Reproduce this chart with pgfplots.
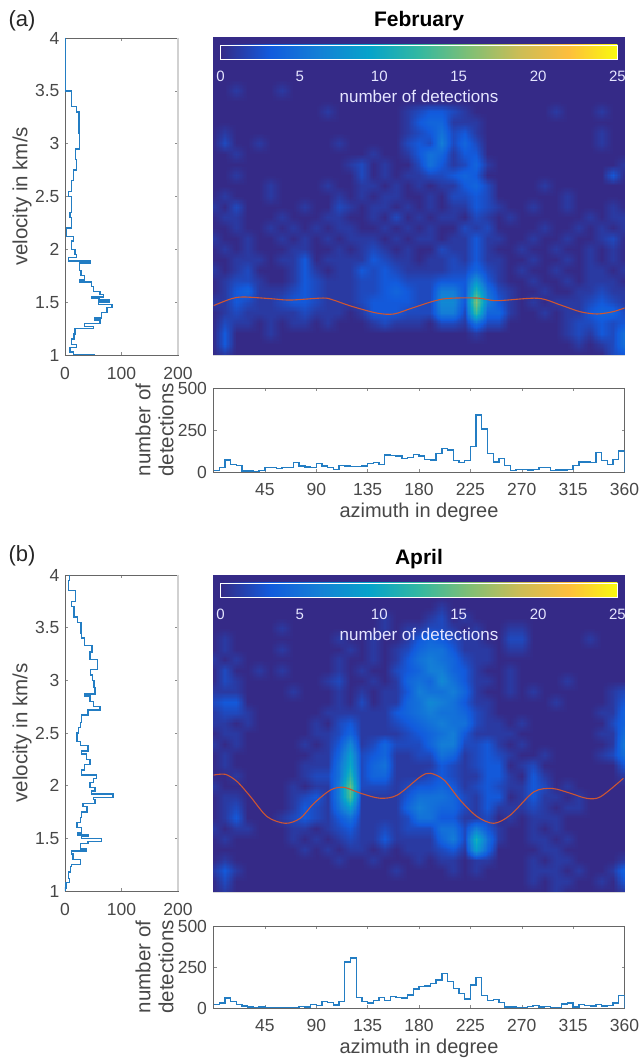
\documentclass[border=0pt]{standalone}
\usepackage{fontspec}
\setmainfont{Liberation Sans}
\usepackage{pgfplots}
\usepgfplotslibrary{patchplots}
\pgfplotsset{compat=1.18}
\definecolor{hblue}{RGB}{35,125,195}
\definecolor{cred}{RGB}{205,85,50}
\pgfplotsset{
 colormap={parula}{rgb=(0.2081,0.1663,0.5292) rgb=(0.0704,0.3562,0.8669) rgb=(0.0780,0.5040,0.8384) rgb=(0.0232,0.6407,0.7925) rgb=(0.1986,0.7214,0.6310) rgb=(0.4963,0.7486,0.4586) rgb=(0.7923,0.7406,0.3396) rgb=(0.9932,0.7439,0.2387) rgb=(0.9763,0.9831,0.0538)},
 every axis/.append style={
  scale only axis, enlargelimits=false, axis line style={black!60,line width=0.7pt},
  tick align=inside, major tick length=3pt, tick style={black!45,line width=0.5pt},
  tick label style={font=\fontsize{17.5}{20}\selectfont,text=black!72,/pgf/number format/assume math mode=true},
  label style={font=\fontsize{20.5}{23}\selectfont,text=black!72},
 },
 heat/.style={width=411pt,height=#1,xmin=0,xmax=360,ymin=1,ymax=4,xtick=\empty,ytick=\empty,
  axis line style={black!15,line width=0.5pt},
  colormap name=parula,point meta min=0,point meta max=25,
  title style={at={(axis description cs:0.5,1)},yshift=10.5pt,anchor=center,font=\fontsize{21}{24}\selectfont\bfseries,text=black},
  colorbar horizontal,
  colorbar style={at={(0.017,0.978)},anchor=north west,width=397pt,height=14pt,scale only axis,
   xtick={0,5,10,15,20,25},major tick length=0pt,
   axis line style={white,line width=0.7pt},
   xticklabel style={font=\fontsize{15}{18}\selectfont,text=white!90!blue,yshift=-9pt},
   xlabel={number of detections},
   xlabel style={font=\fontsize{17}{20}\selectfont,text=white!90!blue,at={(axis description cs:0.5,0)},yshift=-37pt,anchor=center},
   ytick=\empty},
 },
 vhist/.style={width=113pt,height=#1,xmin=0,xmax=200,ymin=1,ymax=4,xtick={0,100,200},
  ytick={1,1.5,2,2.5,3,3.5,4},
  xticklabel style={yshift=-9pt},
  yticklabel style={xshift=-2pt},
  ylabel={velocity in km/s},
  ylabel style={at={(axis description cs:0,0.5)},yshift=43pt,anchor=center},
  extra description/.code={\draw[black!18,line width=1.2pt] (1,0)--(1,1);},
 },
 ahist/.style={width=411pt,height=#1,xmin=0,xmax=360,ymin=0,ymax=500,
  xtick={45,90,135,180,225,270,315,360},ytick={0,250,500},
  xticklabel style={yshift=-8pt},
  yticklabel style={xshift=-3pt},
  xlabel={azimuth in degree},
  xlabel style={font=\fontsize{20}{23}\selectfont,at={(axis description cs:0.5,0)},yshift=-40pt,anchor=center},
  ylabel={number of\\detections},
  ylabel style={at={(axis description cs:0,0.5)},yshift=59pt,anchor=center,align=center},
 },
}
\newcount\hc \newcount\hr
\newcommand\hmstart{\gdef\hmdata{}\global\hr=40 }
\def\hmpad{\xdef\hmdata{\hmdata (\the\numexpr\hc*10\relax,\the\hr e-1) [0]}\global\advance\hc by 1 \ifnum\hc<37 \expandafter\hmpad\fi}
\newcommand\hmrow[1]{\global\hc=0 \foreach \v in {#1}{\ifnum\hc<37 \xdef\hmdata{\hmdata (\the\numexpr\hc*10\relax,\the\hr e-1) [\v]}\global\advance\hc by 1 \fi}\ifnum\hc<37 \hmpad\fi\global\advance\hr by -1 }
% February: number of detections, azimuth 0,10,...,360 along each row, velocity 4.0 down to 1.0
\hmstart
\hmrow{0}\hmrow{0}\hmrow{0}\hmrow{0}\hmrow{0}
\hmrow{0,0,1,0,0,0,1,0,0,0}
\hmrow{0}
\hmrow{0,0,0,0,0,0,0,0,0,0, 1,0,0,0,0,0,0,1,2,3, 3,2,1,0,0,0,0,0,0,0, 1,0,0,0,1}
\hmrow{0,0,0,0,0,0,0,0,0,0, 0,0,0,0,0,0,0,1,3,4, 4,1,1,1}
\hmrow{0,1,0,0,0,0,0,0,0,0, 0,0,0,0,0,0,0,1,2,3, 5,2,3,1,0,0,0,0,0,0, 0,0,0,0,1}
\hmrow{0,2,0,0,1,0,0,0,0,0, 0,1,0,0,0,0,0,2,3,2, 6,2,4,2,0,0,0,0,0,0, 0,0,0,0,1}
\hmrow{0,0,1,0,0,0,0,0,0,0, 0,0,0,0,1,0,0,1,3,5, 4,1,3,3}
\hmrow{0,0,0,0,0,0,0,0,0,0, 0,0,1,2,0,1,0,0,2,5, 3,1,2,4,1,0,0,0,0,0, 0,0,0,0,0,0,1}
\hmrow{0,0,1,0,0,0,0,0,0,0, 0,0,0,2,0,1,0,1,1,2, 2,3,4,3,0,0,0,0,0,0, 0,0,0,0,0,3,0}
\hmrow{0,0,0,0,0,1,0,0,0,0, 1,0,0,1,1,0,1,0,1,0, 1,1,3,4,2,0,0,0,0,1}
\hmrow{0,1,0,0,0,1,0,0,0,0, 0,1,0,1,0,1,1,0,0,1, 0,2,2,3,2,0,0,0,0,0, 0,1}
\hmrow{1,0,2,0,0,0,0,0,1,0, 0,2,1,0,1,1,0,1,0,1, 0,1,1,3,2,1,0,0,1,0, 0,1,0,0,0,1,0}
\hmrow{0,1,1,0,0,0,1,0,0,0, 1,1,0,0,1,0,2,0,1,0, 1,1,0,2,1,0,1,0,0,0, 0,0,0,1,0,1,1}
\hmrow{0,0,1,0,0,1,0,1,0,1, 0,1,1,0,0,1,0,1,0,1, 0,0,2,1,2,0,0,0,0,1, 0,0,1,0,1,0,1}
\hmrow{1,0,0,1,0,0,1,0,1,0, 1,0,1,1,1,0,1,0,1,1, 0,1,1,3,1,1,0,0,1,0, 0,1,0,0,1,2,0}
\hmrow{0,1,0,1,0,0,0,1,1,0, 0,1,0,1,2,1,0,1,0,0, 2,1,1,3,1,0,0,1,0,0, 1,0,0,1,0,1,0}
\hmrow{0,0,1,1,1,0,1,1,3,0, 1,1,1,1,3,2,1,1,0,1, 1,2,1,3,1,1,0,0,1,0, 0,1,0,1,0,1,0}
\hmrow{1,0,1,2,0,0,0,1,3,1, 0,1,1,3,2,3,2,1,1,1, 1,2,2,4,2,1,0,1,0,0, 1,0,0,1,1,0,1}
\hmrow{0,1,2,2,1,0,0,1,3,2, 1,1,1,2,2,3,3,2,2,2, 3,3,3,8,3,1,0,0,1,0, 0,1,0,1,1,1,0}
\hmrow{0,1,3,4,1,1,1,2,3,2, 1,1,1,2,2,3,4,3,2,2, 6,6,3,12,5,2,1,0,0,1, 0,0,1,1,2,1,1}
\hmrow{1,1,3,2,1,1,2,3,3,2, 1,1,1,2,3,3,3,3,2,2, 7,7,3,16,6,3,1,0,1,0, 1,1,1,2,3,2,1}
\hmrow{0,1,2,1,1,1,1,1,2,1, 1,1,0,1,3,3,3,2,2,2, 6,6,2,13,4,4,1,0,0,1, 0,1,1,3,4,4,2}
\hmrow{0,2,1,1,0,1,0,1,1,0, 1,0,0,0,1,2,1,1,1,0, 2,2,1,5,2,2,0,0,0,0, 0,1,2,2,3,2,3}
\hmrow{0,3,0,0,0,1,0,0,0,0, 0,0,0,0,0,0,0,0,0,0, 0,0,0,1,0,0,0,0,0,0, 0,1,2,1,3,2,5}
\hmrow{0,3,0,0,0,0,0,0,0,0, 0,0,0,0,0,0,0,0,0,0, 0,0,0,0,0,0,0,0,0,0, 0,0,1,0,1,2,5}
\hmrow{0,1,0,0,0,0,0,0,0,0, 0,0,0,0,0,0,0,0,0,0, 0,0,0,0,0,0,0,0,0,0, 0,0,0,0,0,2,3}
\global\let\hmA\hmdata
% April
\hmstart
\hmrow{0}\hmrow{0}\hmrow{0}
\hmrow{0,0,0,0,0,0,0,0,0,0, 0,0,0,0,0,0,0,0,0,0, 1}
\hmrow{0,0,0,0,0,0,0,0,0,0, 0,0,0,0,0,1,0,0,0,1, 2,0,1}
\hmrow{0,0,0,0,0,0,1,0,0,0, 0,0,0,0,0,1,0,1,1,2, 2,1,0,1,0,0,1,1}
\hmrow{0,1,0,0,0,0,0,0,0,0, 0,1,0,0,1,0,0,1,3,4, 3,2,1,1,0,0,2,2,0,0, 0,0,0,1}
\hmrow{0,1,0,0,0,0,1,0,0,0, 0,0,1,0,1,0,1,2,4,5, 5,3,1,1,1,0,1,1}
\hmrow{1,0,1,0,0,0,0,0,0,0, 0,1,0,0,1,0,1,3,5,6, 5,4,2,1,1}
\hmrow{0,2,0,0,1,0,1,0,0,0, 0,1,0,1,0,0,2,3,4,6, 6,4,3,1,0,0,1}
\hmrow{0,2,1,0,0,0,0,0,0,0, 1,2,0,0,1,0,1,4,5,4, 7,5,3,1,1,0,1,0,0,0, 0,1}
\hmrow{1,1,1,0,0,0,0,1,0,0, 0,1,0,1,0,1,1,3,6,5, 5,6,4,1,0,0,1,0,1,0, 0,0,0,0,0,1,2}
\hmrow{2,3,3,0,0,0,0,0,0,0, 0,1,0,2,0,1,1,4,5,7, 6,5,3,1,1,0,0,0,0,0, 1,0,0,0,0,1,3}
\hmrow{1,2,2,1,0,0,0,0,0,0, 1,1,1,1,1,1,3,4,5,6, 5,5,4,2,1,0,0,0,0,0, 0,0,0,0,1,1,4}
\hmrow{1,1,0,1,0,0,0,0,0,1, 0,2,3,1,1,1,2,3,4,5, 6,5,5,2,1,1,0,1,0,0, 0,0,0,0,0,2,4}
\hmrow{0,1,1,0,0,0,0,0,0,1, 1,2,4,1,1,1,1,2,3,4, 5,6,3,1,1,1,1,0,0,0, 0,0,0,0,1,1,5}
\hmrow{1,0,1,0,0,0,0,0,1,0, 1,3,7,1,2,4,2,2,2,4, 6,6,2,2,3,1,0,1,0,0, 0,0,0,0,0,1,6}
\hmrow{0,1,0,0,0,0,0,0,0,1, 1,4,9,2,3,4,1,1,2,2, 5,4,1,2,3,2,1,0,0,1, 0,0,0,0,1,2,5}
\hmrow{0,1,0,0,0,0,0,0,1,1, 1,5,10,2,4,5,1,1,1,1, 3,2,1,2,3,3,0,1,2,0, 0,0,0,0,0,0,3}
\hmrow{0,0,1,0,0,0,0,0,1,2, 2,5,12,2,4,4,1,1,1,2, 3,2,1,1,3,3,1,0,3,1, 0,0,0,0,0,0,1}
\hmrow{1,0,0,0,0,0,0,1,0,1, 1,6,15,2,2,2,1,2,3,3, 4,3,1,2,3,2,1,1,3,2, 0,1}
\hmrow{0,1,1,0,0,0,0,1,2,3, 1,6,14,1,1,1,1,3,5,5, 5,4,2,1,3,3,0,1,3,1, 1,0,1}
\hmrow{0,1,2,0,0,0,0,1,3,2, 1,5,9,1,1,1,1,4,6,5, 4,4,2,1,3,1,1,1,2,1, 0,1,1}
\hmrow{0,1,3,0,0,0,1,2,3,2, 1,3,5,1,1,1,1,2,5,5, 3,3,1,1,2,0,1,0,1,1, 1}
\hmrow{1,0,1,1,0,0,0,1,1,0, 1,2,3,1,1,2,1,2,2,2, 5,5,2,6,3,1,0,0,1,0, 1}
\hmrow{0,1,0,0,0,0,0,1,0,1, 0,1,2,1,1,3,1,1,1,1, 4,6,2,11,5,1,0,0,1,1, 0,1}
\hmrow{0,0,0,0,0,0,0,0,1,0, 1,0,1,1,0,1,0,1,1,1, 2,3,1,9,4,0,0,0,0,1, 1}
\hmrow{0,1,0,0,0,0,0,0,0,0, 0,1,0,0,1,0,0,0,1,0, 1,1,0,1,1,0,0,0,1,0, 1,1,0,0,0,0,1}
\hmrow{1,3,1,0,0,0,0,0,0,0, 0,0,0,0,0,0,1,0,0,0, 0,1,0,1,0,0,0,0,1,1, 1,0,1,0,0,1,4}
\hmrow{0,2,0,0,0,0,0,0,0,0, 0,0,0,0,0,0,0,0,0,0, 0,0,0,0,0,0,0,0,1,0, 1,1,0,0,1,0,3}
\hmrow{0,1,0,0,0,0,0,0,0,0, 0,0,0,0,0,0,0,0,0,0, 0,0,0,0,0,0,0,0,0,0, 1,0,0,0,0,0,1}
\global\let\hmB\hmdata
\begin{document}
\begin{tikzpicture}
\node[anchor=center,font=\fontsize{22}{24}\selectfont,text=black!85] at (22pt,1039pt) {(a)};
\node[anchor=center,font=\fontsize{22}{24}\selectfont,text=black!85] at (22pt,504pt) {(b)};
% ---- February ----
\begin{axis}[at={(65pt,705pt)},anchor=south west,vhist=317pt]
\addplot[hblue,line width=1.4pt,const plot mark right] coordinates {
(1,4)(1,3.5)(12,3.5)(12,3.35)(20,3.35)(25,3.3)(26,3.1)(26,3)(19,2.95)(20,2.85)(15,2.75)(12,2.65)(6,2.55)(12,2.5)(9,2.35)(12,2.3)(3,2.2)(15,2.12)(12,2.08)(18,2)(20,1.95)(6,1.92)(44,1.89)(26,1.87)(28,1.8)(35,1.75)(26,1.71)(47,1.69)(50,1.65)(62,1.6)(68,1.57)(47,1.55)(60,1.54)(78,1.52)(59,1.5)(83,1.48)(74,1.45)(65,1.4)(53,1.35)(62,1.33)(35,1.3)(50,1.27)(18,1.25)(16,1.2)(12,1.15)(20,1.1)(9,1.07)(15,1.03)(53,1)};
\end{axis}
\begin{axis}[at={(213.5pt,705pt)},anchor=south west,heat=317pt,title={February}]
\edef\tmp{\noexpand\addplot[surf,shader=interp,patch type=bilinear,mesh/cols=37,mesh/ordering=x varies,point meta=explicit] coordinates {\hmA};}\tmp
\addplot[cred,line width=1.1pt,smooth] coordinates {(0,1.467)(15,1.53)(26,1.549)(50,1.533)(67,1.52)(96,1.539)(105,1.52)(120,1.464)(143,1.397)(158,1.388)(175,1.448)(201,1.53)(231,1.539)(248,1.514)(284,1.537)(304,1.473)(321,1.41)(336,1.388)(350,1.41)(360,1.445)};
\end{axis}
\begin{axis}[at={(213.5pt,588pt)},anchor=south west,ahist=84pt]
\addplot[hblue,line width=1.4pt,const plot] coordinates {
(0,10)(5,25)(10,72)(15,45)(20,38)(25,5)(30,5)(35,3)(40,8)(45,25)(50,28)(55,20)(60,25)(65,25)(70,55)(75,35)(80,30)(85,28)(90,50)(95,35)(100,25)(105,15)(110,40)(115,35)(120,33)(125,33)(130,35)(135,50)(140,55)(145,45)(150,100)(155,98)(160,95)(165,80)(170,85)(175,105)(180,95)(185,75)(190,72)(195,110)(200,140)(205,130)(210,70)(215,55)(220,70)(225,150)(230,340)(235,255)(240,110)(245,60)(250,80)(255,40)(260,8)(265,15)(270,15)(275,12)(280,15)(285,25)(290,25)(295,10)(300,12)(305,12)(310,15)(315,40)(320,60)(325,60)(330,55)(335,115)(340,70)(345,45)(350,75)(355,125)(360,125)(360,0)};
\end{axis}
% ---- April ----
\begin{axis}[at={(65pt,169pt)},anchor=south west,vhist=316pt]
\addplot[hblue,line width=1.4pt,const plot mark right] coordinates {
(8,4)(6,3.95)(19,3.85)(12,3.75)(16,3.7)(22,3.6)(28,3.55)(29,3.45)(35,3.4)(48,3.33)(44,3.27)(58,3.2)(45,3.1)(49,3.05)(51,3)(53,2.93)(35,2.87)(44,2.85)(50,2.8)(62,2.75)(41,2.72)(29,2.67)(27,2.6)(24,2.55)(21,2.5)(27,2.42)(41,2.38)(29,2.33)(38,2.3)(44,2.25)(35,2.2)(29,2.15)(56,2.1)(50,2.07)(44,2.03)(53,1.98)(47,1.95)(85,1.92)(50,1.89)(53,1.87)(32,1.83)(39,1.8)(29,1.75)(27,1.7)(21,1.65)(29,1.6)(22,1.55)(41,1.53)(29,1.52)(65,1.5)(41,1.47)(27,1.45)(38,1.4)(12,1.38)(14,1.35)(27,1.3)(12,1.25)(10,1.23)(6,1.18)(8,1.12)(2,1.08)(0,1.03)(0,1)};
\end{axis}
\begin{axis}[at={(213.5pt,168pt)},anchor=south west,heat=316pt,title={April}]
\edef\tmp{\noexpand\addplot[surf,shader=interp,patch type=bilinear,mesh/cols=37,mesh/ordering=x varies,point meta=explicit] coordinates {\hmB};}\tmp
\addplot[cred,line width=1.1pt,smooth] coordinates {(0,2.11)(10.5,2.117)(20.8,2.047)(32.4,1.905)(47,1.715)(63,1.652)(76,1.7)(88,1.842)(102.5,1.968)(114,1.994)(129,1.937)(146,1.89)(161,1.92)(181.3,2.095)(190,2.127)(202,2.063)(216,1.873)(231,1.715)(245.5,1.652)(260,1.73)(280.5,1.95)(296.6,1.983)(312.7,1.937)(327,1.889)(339,1.904)(359,2.079)};
\end{axis}
\begin{axis}[at={(213.5pt,52pt)},anchor=south west,ahist=82pt]
\addplot[hblue,line width=1.4pt,const plot] coordinates {
(0,20)(5,30)(10,60)(15,40)(20,20)(25,12)(30,5)(35,2)(40,5)(45,2)(50,2)(55,2)(60,2)(65,2)(70,3)(75,8)(80,6)(85,20)(90,15)(95,40)(100,35)(105,18)(110,40)(115,280)(120,305)(125,65)(130,40)(135,30)(140,45)(145,65)(150,45)(155,70)(160,65)(165,60)(170,80)(175,115)(180,130)(185,135)(190,150)(195,170)(200,210)(205,160)(210,120)(215,90)(220,55)(225,140)(230,185)(235,75)(240,45)(245,50)(250,35)(255,5)(260,5)(265,2)(270,3)(275,10)(280,15)(285,5)(290,10)(295,3)(300,3)(305,25)(310,30)(315,5)(320,20)(325,15)(330,12)(335,20)(340,12)(345,15)(350,30)(355,75)(360,75)(360,0)};
\end{axis}
\pgfresetboundingbox
\path[use as bounding box] (0,0) rectangle (640pt,1060pt);
\end{tikzpicture}
\end{document}
